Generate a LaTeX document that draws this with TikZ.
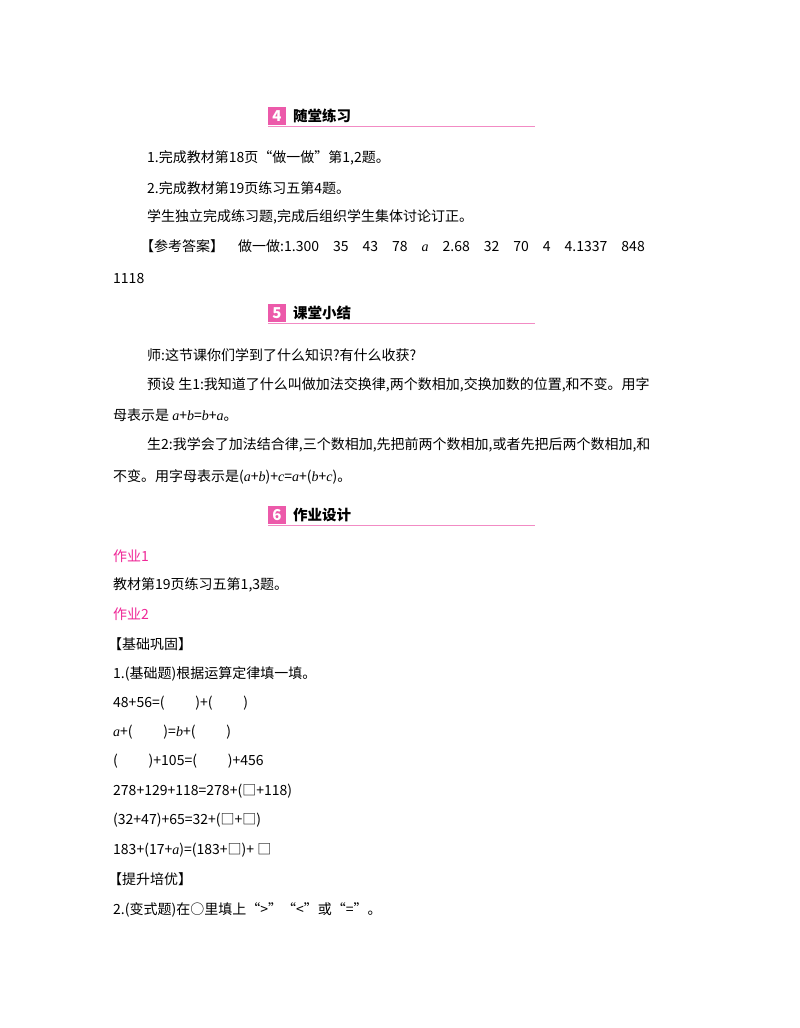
\documentclass[tikz,border=0pt]{standalone}
\usepackage{fontspec}
\setmainfont{Noto Sans CJK SC}
\newfontfamily\lat{Liberation Serif}
\newcommand{\va}[1]{{\lat\itshape #1}}
\begin{document}
\begin{tikzpicture}[x=1pt,y=-1pt,
  t/.style={anchor=west,inner sep=0pt,font=\fontsize{14}{16}\selectfont},
  pk/.style={t,text=magenta!80!pink},
  hd/.style={anchor=west,inner sep=0pt,font=\fontsize{14.5}{16}\selectfont\bfseries}]
\useasboundingbox[fill=white] (0,0) rectangle (800,1028);
\definecolor{hpink}{RGB}{236,90,170}
\foreach \y/\n/\s in {116/4/随堂练习,313/5/课堂小结,515/6/作业设计}{
  \node[fill=hpink,minimum width=18pt,minimum height=18pt,inner sep=0pt,text=white,font=\fontsize{15}{15}\selectfont\bfseries\itshape] (b\n) at (277,\y) {\n};
  \node[hd] (h\n) at (293,\y) {\s};
  \draw[hpink!70,line width=0.8pt] (268,\y+10) -- (535,\y+10);
}
\node[t] (l1) at (147,158) {1.完成教材第18页“做一做”第1,2题。};
\node[t] (l2) at (147,188) {2.完成教材第19页练习五第4题。};
\node[t] (l3) at (147,217) {学生独立完成练习题,完成后组织学生集体讨论订正。};
\node[t] (l4) at (140,246) {【参考答案】\quad 做一做:1.300\quad 35\quad 43\quad 78\quad \va{a}\quad 2.68\quad 32\quad 70\quad 4\quad 4.1337\quad 848};
\node[t] (l5) at (113,279) {1118};
\node[t] (l6) at (147,355) {师:这节课你们学到了什么知识?有什么收获?};
\node[t] (l7) at (147,385) {预设\ 生1:我知道了什么叫做加法交换律,两个数相加,交换加数的位置,和不变。用字};
\node[t] (l8) at (113,415) {母表示是 \va{a}+\va{b}=\va{b}+\va{a}。};
\node[t] (l9) at (147,445) {生2:我学会了加法结合律,三个数相加,先把前两个数相加,或者先把后两个数相加,和};
\node[t] (l10) at (113,477) {不变。用字母表示是(\va{a}+\va{b})+\va{c}=\va{a}+(\va{b}+\va{c})。};
\node[pk] (l11) at (113,556) {作业1};
\node[t] (l12) at (113,585) {教材第19页练习五第1,3题。};
\node[pk] (l13) at (113,614) {作业2};
\node[t] (l14) at (108,644) {【基础巩固】};
\node[t] (l15) at (113,674) {1.(基础题)根据运算定律填一填。};
\node[t] (l16) at (113,703) {48+56=(\hspace{2.2em})+(\hspace{2.2em})};
\node[t] (l17) at (113,732) {\va{a}+(\hspace{2.2em})=\va{b}+(\hspace{2.2em})};
\node[t] (l18) at (113,761) {(\hspace{2.2em})+105=(\hspace{2.2em})+456};
\node[t] (l19) at (113,791) {278+129+118=278+(□+118)};
\node[t] (l20) at (113,820) {(32+47)+65=32+(□+□)};
\node[t] (l21) at (113,850) {183+(17+\va{a})=(183+□)+\ □};
\node[t] (l22) at (108,879) {【提升培优】};
\node[t] (l23) at (113,910) {2.(变式题)在○里填上“>”“<”或“=”。};
\end{tikzpicture}
\end{document}
